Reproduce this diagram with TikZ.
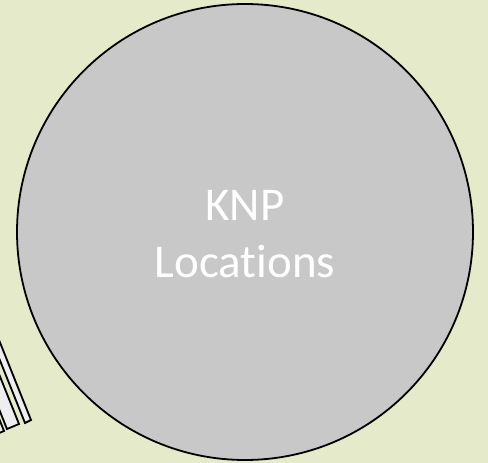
\documentclass[tikz,border=0pt]{standalone}
\usepackage{fontspec}
\setmainfont[Ligatures={NoCommon,NoRare,NoContextual}]{Carlito}
\definecolor{bgc}{HTML}{E5EACB}
\definecolor{circfill}{HTML}{C8C8C8}
\definecolor{stripfill}{HTML}{EEEEEE}
\tikzset{
  strip/.style={draw=black, line width=1.8pt, fill=stripfill, line join=miter},
  bigcirc/.style={circle, draw=black, line width=1.8pt, fill=circfill, minimum size=456pt, inner sep=0pt},
  lbl/.style={text=white, font=\fontsize{47}{56}\selectfont, anchor=base, inner sep=0pt}
}
\begin{document}
\begin{tikzpicture}[x=1pt,y=-1pt]
\fill[bgc] (0,0) rectangle (488,463);
\useasboundingbox (0,0) rectangle (488,463);
\clip (0,0) rectangle (488,463);
% strips (clipped at the left edge)
\draw[strip] (25,423) -- (31,420) -- (-9,320) -- (-15,323) -- cycle;
\draw[strip] (7,429) -- (19,424) -- (-21,324) -- (-33,329) -- cycle;
\draw[strip] (-8,436) -- (4,431) -- (-36,331) -- (-48,336) -- cycle;
% circle
\node[bigcirc] (c) at (245,232) {};
\node[lbl] (k) at (245,220) {KNP};
\node[lbl] (l) at (245,277) {Locations};
\end{tikzpicture}
\end{document}
